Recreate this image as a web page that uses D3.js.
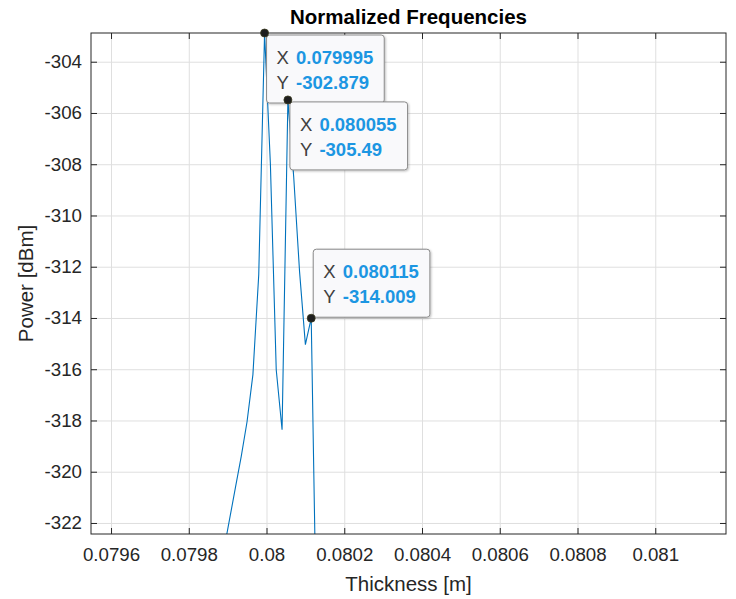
<!DOCTYPE html>
<html><head><meta charset="utf-8">
<script src="https://cdn.jsdelivr.net/npm/d3@7"></script>
<style>body{margin:0;background:#fff}</style>
</head><body><svg id="chart" width="736" height="599"></svg>
<script>
// ---- data ----
const thickness = [0.07989, 0.079905, 0.07992, 0.079935, 0.07995, 0.079965, 0.07998, 0.079995,
                   0.08001, 0.080025, 0.08004, 0.080055, 0.08007, 0.080085, 0.0801, 0.080115, 0.08013];
const power = [-323.08, -321.85, -320.62, -319.40, -318.04, -316.21, -312.31, -302.879,
               -308.01, -316.02, -318.36, -305.49, -308.51, -312.19, -315.04, -314.009, -327.6];
const xTicks = [0.0796, 0.0798, 0.08, 0.0802, 0.0804, 0.0806, 0.0808, 0.081];
const xTickLabels = ["0.0796", "0.0798", "0.08", "0.0802", "0.0804", "0.0806", "0.0808", "0.081"];
const yTicks = [-304, -306, -308, -310, -312, -314, -316, -318, -320, -322];
const yTickLabels = ["-304", "-306", "-308", "-310", "-312", "-314", "-316", "-318", "-320", "-322"];
const tipX = [0.079995, 0.080055, 0.080115];
const tipY = [-302.879, -305.49, -314.009];
const tipPlacement = ["below", "below", "above"];
const xDomain = [0.0795485, 0.081182];
const yDomain = [-322.43, -302.879];
const titleText = "Normalized Frequencies";
const xLabelText = "Thickness [m]";
const yLabelText = "Power [dBm]";

// ---- layout ----
const FONT = "'Liberation Sans', Arial, Helvetica, sans-serif";
const M = {left: 91, top: 33, right: 10, bottom: 65};
const W = 736, H = 599;
const pw = W - M.left - M.right, ph = H - M.top - M.bottom;
const AX = "#262626";

const svg = d3.select("#chart");
const defs = svg.append("defs");
defs.append("clipPath").attr("id", "clip").append("rect").attr("width", pw).attr("height", ph);
const f = defs.append("filter").attr("id", "shadow").attr("x", "-10%").attr("y", "-10%").attr("width", "130%").attr("height", "130%");
f.append("feDropShadow").attr("dx", 1).attr("dy", 1).attr("stdDeviation", 1).attr("flood-color", "#000").attr("flood-opacity", 0.25);

const g = svg.append("g").attr("transform", `translate(${M.left},${M.top})`);
const x = d3.scaleLinear().domain(xDomain).range([0, pw]);
const y = d3.scaleLinear().domain(yDomain).range([ph, 0]);

// grid
g.append("g").attr("transform", `translate(0,${ph})`)
  .call(d3.axisBottom(x).tickValues(xTicks).tickSize(-ph).tickFormat(""))
  .call(s => { s.select(".domain").remove(); s.selectAll("line").attr("stroke", "#dfdfdf"); });
g.append("g")
  .call(d3.axisLeft(y).tickValues(yTicks).tickSize(-pw).tickFormat(""))
  .call(s => { s.select(".domain").remove(); s.selectAll("line").attr("stroke", "#dfdfdf"); });

// line
g.append("path").datum(thickness.map((t, i) => [t, power[i]]))
  .attr("clip-path", "url(#clip)")
  .attr("fill", "none").attr("stroke", "#0072BD").attr("stroke-width", 1.1)
  .attr("d", d3.line().x(d => x(d[0])).y(d => y(d[1])));

// axes
function styleAxis(s) {
  s.select(".domain").remove();
  s.selectAll("line").attr("stroke", AX);
  s.selectAll("text").attr("fill", AX).style("font-family", FONT).style("font-size", "18.7px");
}
g.append("g").attr("transform", `translate(0,${ph})`)
  .call(d3.axisBottom(x).tickValues(xTicks).tickFormat((d, i) => xTickLabels[i]).tickSizeInner(-6).tickSizeOuter(0).tickPadding(14))
  .call(styleAxis);
g.append("g")
  .call(d3.axisTop(x).tickValues(xTicks).tickFormat("").tickSizeInner(-6).tickSizeOuter(0))
  .call(styleAxis);
g.append("g")
  .call(d3.axisLeft(y).tickValues(yTicks).tickFormat((d, i) => yTickLabels[i]).tickSizeInner(-6).tickSizeOuter(0).tickPadding(9))
  .call(styleAxis);
g.append("g").attr("transform", `translate(${pw},0)`)
  .call(d3.axisRight(y).tickValues(yTicks).tickFormat("").tickSizeInner(-6).tickSizeOuter(0))
  .call(styleAxis);
g.append("rect").attr("width", pw).attr("height", ph).attr("fill", "none").attr("stroke", AX).attr("stroke-width", 1);

// titles
svg.append("text").attr("x", M.left + pw / 2).attr("y", 24).attr("text-anchor", "middle")
  .style("font-family", FONT).style("font-size", "20.5px").style("font-weight", "bold").attr("fill", "#000").text(titleText);
svg.append("text").attr("x", M.left + pw / 2).attr("y", 591).attr("text-anchor", "middle")
  .style("font-family", FONT).style("font-size", "20.5px").attr("fill", AX).text(xLabelText);
svg.append("text").attr("transform", `translate(33,${M.top + ph / 2}) rotate(-90)`).attr("text-anchor", "middle")
  .style("font-family", FONT).style("font-size", "20.5px").attr("fill", AX).text(yLabelText);

// datatips
tipX.forEach((tx, i) => {
  const px = x(tx), py = y(tipY[i]);
  const tg = g.append("g");
  const boxH = 68;
  const left = px + 2;
  const top = tipPlacement[i] === "below" ? py + 2 : py - 1 - boxH;
  const rect = tg.append("rect").attr("x", left).attr("y", top).attr("height", boxH).attr("rx", 3)
    .attr("fill", "#f9f9fb").attr("stroke", "#8a8a8a").attr("stroke-width", 1).attr("filter", "url(#shadow)");
  const rows = [["X", String(tx)], ["Y", String(tipY[i])]];
  let maxW = 0;
  rows.forEach((r, j) => {
    const by = top + 29 + j * 25;
    tg.append("text").attr("x", left + 10).attr("y", by).style("font-family", FONT).style("font-size", "18.5px")
      .attr("fill", "#404040").text(r[0]);
    const vt = tg.append("text").attr("x", left + 29.5).attr("y", by).style("font-family", FONT).style("font-size", "18.5px")
      .style("font-weight", "bold").attr("fill", "#1c96e2").text(r[1]);
    maxW = Math.max(maxW, vt.node().getComputedTextLength());
  });
  rect.attr("width", 29.5 + maxW + 11);
  g.append("circle").attr("cx", px).attr("cy", py).attr("r", 4).attr("fill", "#1e1e1e").attr("stroke", "#3a3a20").attr("stroke-width", 0.8);
});
</script></body></html>
